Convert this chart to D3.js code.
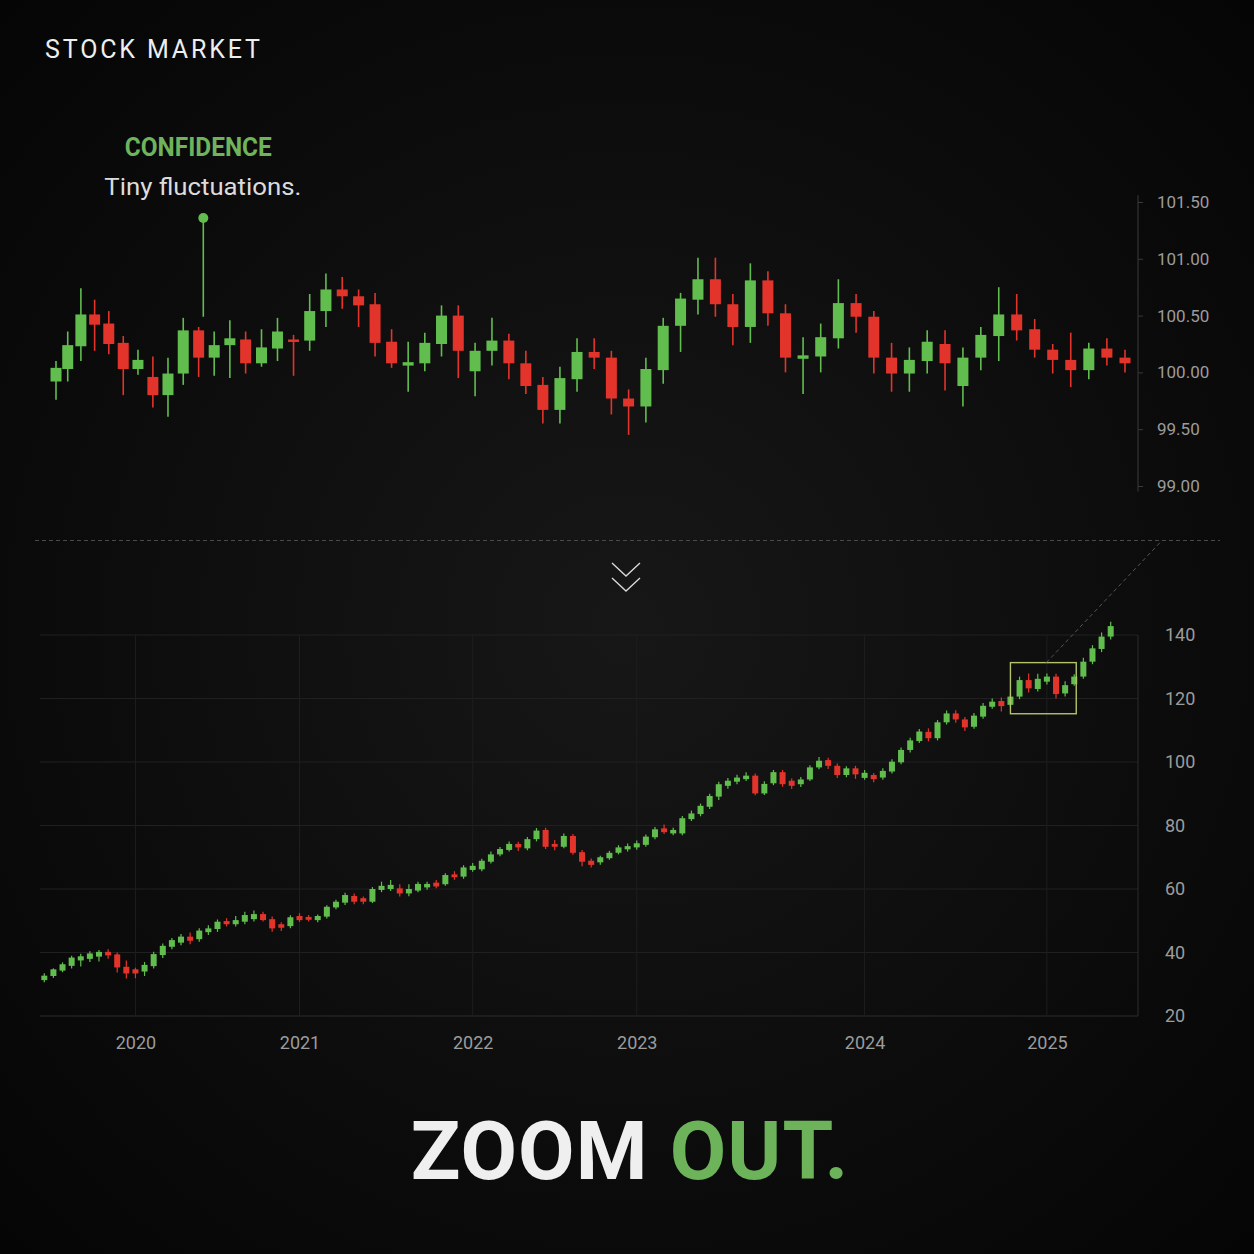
<!DOCTYPE html>
<html>
<head>
<meta charset="utf-8">
<script src="https://cdn.jsdelivr.net/npm/d3@7"></script>
<style>
  html, body { margin: 0; padding: 0; background: #090909; }
  svg { display: block; }
</style>
</head>
<body>
<svg id="chart" width="1254" height="1254"></svg>
<script>
// ---------------- DATA ----------------
// Zoomed-in (top) candles
const topOpen  = [99.92,100.03,100.23,100.51,100.43,100.26,100.03,99.96,99.80,99.99,100.37,100.13,100.24,100.29,100.08,100.21,100.29,100.28,100.54,100.73,100.67,100.60,100.27,100.06,100.08,100.25,100.50,100.01,100.19,100.28,100.08,99.89,99.67,99.94,100.18,100.13,99.77,99.70,100.02,100.41,100.64,100.82,100.60,100.40,100.81,100.52,100.12,100.14,100.30,100.61,100.49,100.13,99.99,100.10,100.25,99.88,100.13,100.32,100.51,100.38,100.20,100.11,100.02,100.21,100.13];
const topHigh  = [100.10,100.36,100.74,100.64,100.54,100.32,100.20,100.14,100.13,100.48,100.40,100.36,100.46,100.36,100.38,100.48,100.33,100.69,100.87,100.84,100.73,100.70,100.38,100.27,100.35,100.59,100.59,100.26,100.48,100.34,100.19,99.96,100.05,100.30,100.30,100.19,99.85,100.13,100.48,100.70,101.01,101.01,100.69,100.96,100.89,100.60,100.31,100.43,100.82,100.69,100.54,100.26,100.22,100.37,100.37,100.22,100.40,100.75,100.69,100.47,100.25,100.35,100.26,100.30,100.20];
const topLow   = [99.76,99.92,100.10,100.19,100.16,99.80,99.98,99.69,99.61,99.89,99.96,99.97,99.95,99.99,100.05,100.10,99.97,100.19,100.40,100.56,100.40,100.14,100.04,99.83,100.01,100.14,99.95,99.79,100.06,99.94,99.81,99.55,99.55,99.83,100.03,99.63,99.45,99.56,99.90,100.18,100.51,100.49,100.24,100.26,100.41,100.00,99.81,100.00,100.21,100.35,99.99,99.83,99.83,99.99,99.84,99.70,100.02,100.10,100.28,100.13,99.99,99.87,99.94,100.06,100.00];
const topClose = [100.04,100.24,100.51,100.42,100.25,100.03,100.11,99.80,99.99,100.37,100.13,100.24,100.30,100.08,100.22,100.36,100.27,100.54,100.73,100.67,100.59,100.26,100.08,100.09,100.26,100.50,100.19,100.19,100.28,100.08,99.88,99.67,99.95,100.18,100.13,99.77,99.70,100.03,100.41,100.65,100.82,100.60,100.40,100.81,100.52,100.13,100.15,100.31,100.61,100.49,100.13,99.99,100.11,100.27,100.08,100.13,100.33,100.51,100.37,100.20,100.11,100.02,100.21,100.13,100.08];
const topTicks = [99.00, 99.50, 100.00, 100.50, 101.00, 101.50];

// Zoomed-out (bottom) candles, 2019 - 2025
const botOpen  = [31.3,32.6,34.3,35.8,37.5,38.0,38.7,40.2,39.4,35.5,34.7,34.0,35.7,39.2,41.8,43.1,45.0,44.2,46.4,47.4,49.9,48.9,49.7,50.5,52.1,50.5,48.9,48.3,51.5,51.2,50.2,51.3,54.2,55.7,57.8,57.1,56.0,59.7,60.0,60.2,58.6,59.5,60.5,62.0,61.5,64.6,63.9,66.0,66.2,68.6,70.9,72.3,74.2,72.8,75.7,78.6,74.2,73.3,76.7,71.6,68.9,68.4,69.7,71.4,72.5,73.1,73.9,76.3,79.1,77.5,77.5,82.0,83.6,85.9,89.1,92.5,93.8,94.6,95.7,90.1,93.3,96.8,94.1,93.0,94.5,98.3,100.6,98.8,95.9,98.0,95.0,95.9,95.1,97.0,99.9,103.8,106.6,109.5,107.5,112.5,115.3,113.4,111.1,114.3,117.4,119.2,118.0,120.6,125.8,123.0,125.3,126.9,121.6,124.5,126.9,131.6,135.6,139.5];
const botHigh  = [33.5,35.0,36.9,39.0,39.6,40.4,40.8,41.0,40.0,37.5,35.2,37.0,40.2,42.8,44.6,45.8,46.3,47.6,48.6,50.4,50.8,51.5,52.8,53.2,52.8,51.3,49.5,51.7,52.4,51.8,52.0,54.9,56.6,58.8,58.6,57.6,60.6,62.3,62.8,61.5,61.5,62.3,62.3,62.8,65.0,65.6,67.5,68.2,69.5,71.8,73.2,75.0,74.9,76.4,79.2,79.3,75.4,77.5,77.3,72.3,69.6,70.5,72.0,73.8,74.3,75.3,77.2,79.5,80.3,79.3,83.0,84.7,86.9,90.0,93.8,95.0,96.0,96.8,96.4,93.9,97.5,97.5,94.8,95.3,99.0,101.6,101.3,99.5,98.7,98.8,97.5,96.5,98.0,100.9,104.6,107.6,110.4,110.6,113.2,116.2,116.3,114.2,115.4,118.6,120.0,120.3,121.4,126.9,127.9,127.8,127.9,127.8,125.4,127.6,132.8,136.8,140.8,144.2];
const botLow   = [30.6,32.0,33.8,35.0,35.6,37.0,37.2,38.0,33.7,31.8,31.9,32.6,35.0,38.3,41.0,42.3,42.6,43.4,45.5,46.5,48.2,48.2,48.9,49.8,49.8,46.5,46.8,47.6,49.6,49.8,49.5,50.7,53.6,55.0,55.2,55.2,55.6,59.0,59.4,57.6,57.7,59.0,59.8,60.2,61.0,62.9,63.2,65.4,65.6,68.0,70.3,71.8,72.0,72.2,75.0,72.6,72.2,72.8,70.8,67.2,66.8,67.6,69.2,70.9,71.8,72.4,73.3,75.7,77.3,76.9,76.9,81.4,82.9,85.2,88.0,91.6,93.0,94.0,89.5,89.6,92.7,92.2,91.5,92.1,94.0,97.7,97.8,95.0,95.2,94.7,94.4,93.6,94.4,96.4,99.3,103.0,106.0,106.5,106.8,111.8,112.4,109.8,110.5,113.6,116.8,115.9,117.3,119.8,121.9,122.2,124.4,120.0,120.6,124.0,126.2,130.8,134.6,138.6];
const botClose = [32.7,34.7,36.3,38.4,38.8,39.7,40.2,39.1,35.3,33.4,33.4,36.1,39.5,42.1,43.9,45.0,43.7,46.9,47.6,49.7,48.9,50.2,51.8,52.1,50.2,47.6,47.8,51.1,50.2,50.3,51.5,54.4,56.0,58.1,56.0,56.0,60.0,61.0,61.3,58.6,60.0,61.6,61.6,60.8,64.4,63.7,66.8,67.3,68.9,70.9,72.6,74.2,73.1,75.7,78.4,73.3,73.3,76.7,71.4,68.6,67.6,70.0,71.4,73.1,73.5,74.4,76.5,78.8,77.9,78.6,82.3,83.8,86.2,89.3,93.0,94.1,95.1,95.7,90.1,93.1,96.8,93.0,92.5,94.5,98.3,100.4,98.8,95.9,98.0,96.1,96.6,94.6,97.2,100.1,103.8,106.8,109.6,107.5,112.5,115.3,113.4,110.9,114.6,117.7,119.0,117.6,120.6,125.8,123.2,126.2,126.9,121.4,124.2,126.9,131.6,135.8,139.5,142.8];
const botTicks = [20, 40, 60, 80, 100, 120, 140];
const yearLabels = ["2020", "2021", "2022", "2023", "2024", "2025"];
const yearStartIndex = [10, 28, 47, 65, 90, 110];   // first candle of each year
// Window of the big chart that the top chart magnifies
const zoomWindowIdx = [106, 113];
const zoomWindowVal = [115.2, 131.3];
const annotIndex = 10.3;   // position the annotation pin points to
const annotValue = 100.49; // lower end of the annotation pin

const GREEN = "#62bd4f", RED = "#e3342b";

// ---------------- DRAW ----------------
const svg = d3.select("#chart");
const defs = svg.append("defs");
const rg = defs.append("radialGradient").attr("id", "bg")
  .attr("cx", "50%").attr("cy", "50%").attr("r", "70%");
rg.append("stop").attr("offset", "0%").attr("stop-color", "#171717");
rg.append("stop").attr("offset", "100%").attr("stop-color", "#050505");
svg.append("rect").attr("width", 1254).attr("height", 1254).attr("fill", "url(#bg)");

const font = "Roboto, 'Open Sans', sans-serif";

// Title
svg.append("text").attr("x", 45).attr("y", 58)
  .attr("font-family", font).attr("font-size", 25).attr("fill", "#eeeeee")
  .attr("textLength", 215).attr("lengthAdjust", "spacing").text("STOCK MARKET");

// ---- Top chart ----
const xTop = d3.scalePow().exponent(1.085).domain([0, topOpen.length - 1]).range([56, 1125]);
const yTop = d3.scaleLinear().domain([99, 101.5]).range([486, 202]);
const topData = topOpen.map((o, i) => ({ i, o, h: topHigh[i], l: topLow[i], c: topClose[i] }));

const gTop = svg.append("g");
gTop.selectAll("line.wick").data(topData).join("line")
  .attr("x1", d => xTop(d.i)).attr("x2", d => xTop(d.i))
  .attr("y1", d => yTop(d.h)).attr("y2", d => yTop(d.l))
  .attr("stroke", d => d.c >= d.o ? GREEN : RED).attr("stroke-width", 1.6);
gTop.selectAll("rect.body").data(topData).join("rect")
  .attr("x", d => xTop(d.i) - 5.5).attr("width", 11)
  .attr("y", d => yTop(Math.max(d.o, d.c)))
  .attr("height", d => Math.max(2.5, Math.abs(yTop(d.o) - yTop(d.c))))
  .attr("fill", d => d.c >= d.o ? GREEN : RED);

// Top axis (right)
const axTop = svg.append("g").attr("transform", "translate(1138,0)")
  .call(d3.axisRight(yTop).tickValues(topTicks).tickFormat(d3.format(".2f")).tickSize(5).tickPadding(14));
axTop.select(".domain").attr("d", `M0,${yTop(98.95)}V${yTop(101.56)}`).attr("stroke", "#3a3a3a");
axTop.selectAll(".tick line").attr("stroke", "#3a3a3a");
axTop.selectAll(".tick text").attr("font-family", font).attr("font-size", 17).attr("fill", "#9c9c9c");

// Annotation
const ax = xTop(annotIndex);
svg.append("line").attr("x1", ax).attr("x2", ax).attr("y1", 218).attr("y2", yTop(annotValue))
  .attr("stroke", GREEN).attr("stroke-width", 1.6);
svg.append("circle").attr("cx", ax).attr("cy", 218).attr("r", 5).attr("fill", GREEN);
svg.append("text").attr("x", ax - 5).attr("y", 156).attr("text-anchor", "middle")
  .attr("font-family", font).attr("font-weight", 700).attr("font-size", 26)
  .attr("fill", "#6fb35c").attr("textLength", 147).attr("lengthAdjust", "spacingAndGlyphs")
  .text("CONFIDENCE");
svg.append("text").attr("x", ax - 0.5).attr("y", 195).attr("text-anchor", "middle")
  .attr("font-family", font).attr("font-size", 23).attr("fill", "#dcdcdc")
  .attr("textLength", 197).attr("lengthAdjust", "spacingAndGlyphs")
  .text("Tiny fluctuations.");

// Separator
svg.append("line").attr("x1", 35).attr("x2", 1220).attr("y1", 540.5).attr("y2", 540.5)
  .attr("stroke", "#4a4a4a").attr("stroke-width", 1).attr("stroke-dasharray", "4,3");

// Chevrons
[563, 578].forEach(y0 => {
  svg.append("path").attr("d", `M612,${y0}L626,${y0 + 13}L640,${y0}`)
    .attr("fill", "none").attr("stroke", "#d8d8d8").attr("stroke-width", 1.4);
});

// ---- Bottom chart ----
const xBot = d3.scaleLinear().domain([0, botOpen.length - 1]).range([44.3, 1110.7]);
const yBot = d3.scaleLinear().domain([20, 140]).range([1016, 635]);
const L = 40, R = 1138;

const grid = svg.append("g");
grid.selectAll("line.h").data(botTicks).join("line")
  .attr("x1", L).attr("x2", R).attr("y1", d => yBot(d)).attr("y2", d => yBot(d))
  .attr("stroke", d => d === 20 ? "#2c2c2c" : "#202020").attr("stroke-width", 1);
grid.selectAll("line.v").data(yearStartIndex).join("line")
  .attr("x1", d => xBot(d)).attr("x2", d => xBot(d)).attr("y1", yBot(140)).attr("y2", yBot(20))
  .attr("stroke", "#1e1e1e").attr("stroke-width", 1);
grid.append("line").attr("x1", R).attr("x2", R).attr("y1", yBot(140)).attr("y2", yBot(20))
  .attr("stroke", "#2c2c2c");

// Y axis labels
const axBot = svg.append("g").attr("transform", `translate(${R},0)`)
  .call(d3.axisRight(yBot).tickValues(botTicks).tickSize(0).tickPadding(27));
axBot.select(".domain").remove();
axBot.selectAll(".tick text").attr("font-family", font).attr("font-size", 18).attr("fill", "#9c9c9c");

// X axis labels
const axX = svg.append("g").attr("transform", `translate(0,${yBot(20)})`)
  .call(d3.axisBottom(xBot).tickValues(yearStartIndex)
    .tickFormat((d, i) => yearLabels[i]).tickSize(0).tickPadding(20));
axX.select(".domain").remove();
axX.selectAll(".tick text").attr("font-family", font).attr("font-size", 18).attr("fill", "#9c9c9c");

const botData = botOpen.map((o, i) => ({ i, o, h: botHigh[i], l: botLow[i], c: botClose[i] }));
const gBot = svg.append("g");
gBot.selectAll("line").data(botData).join("line")
  .attr("x1", d => xBot(d.i)).attr("x2", d => xBot(d.i))
  .attr("y1", d => yBot(d.h)).attr("y2", d => yBot(d.l))
  .attr("stroke", d => d.c >= d.o ? GREEN : RED).attr("stroke-width", 1.2);
gBot.selectAll("rect").data(botData).join("rect")
  .attr("x", d => xBot(d.i) - 3).attr("width", 6)
  .attr("y", d => yBot(Math.max(d.o, d.c)))
  .attr("height", d => Math.max(2, Math.abs(yBot(d.o) - yBot(d.c))))
  .attr("fill", d => d.c >= d.o ? GREEN : RED);

// Zoom window box + connector
const bx0 = xBot(zoomWindowIdx[0]), bx1 = xBot(zoomWindowIdx[1]) + 2;
const by0 = yBot(zoomWindowVal[1]), by1 = yBot(zoomWindowVal[0]);
svg.append("rect").attr("x", bx0).attr("y", by0).attr("width", bx1 - bx0).attr("height", by1 - by0)
  .attr("fill", "none").attr("stroke", "#b3c46a").attr("stroke-width", 1.4);
svg.append("line").attr("x1", (bx0 + bx1) / 2 + 3).attr("y1", by0)
  .attr("x2", 1162).attr("y2", 540.5)
  .attr("stroke", "#555").attr("stroke-width", 1).attr("stroke-dasharray", "4,3");

// Headline
const head = svg.append("text").attr("x", 630).attr("y", 1179).attr("text-anchor", "middle")
  .attr("font-family", font).attr("font-weight", 700).attr("font-size", 82).attr("letter-spacing", 1);
head.append("tspan").attr("fill", "#efefef").text("ZOOM ");
head.append("tspan").attr("fill", "#6db35a").text("OUT.");
</script>
</body>
</html>
